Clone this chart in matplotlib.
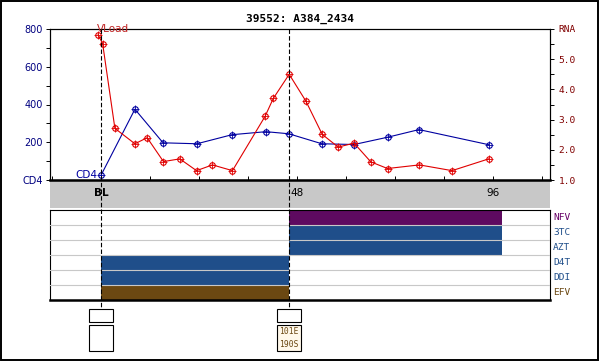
import matplotlib
matplotlib.use("Agg")
import matplotlib.pyplot as plt
from matplotlib.patches import Rectangle
from matplotlib.lines import Line2D
from matplotlib.transforms import blended_transform_factory

# data
title = "39552: A384_2434"

cd4_weeks = [0, 8.3, 15.2, 23.5, 32.1, 40.4, 46, 54.1, 62, 70.3, 77.9, 95]
cd4_vals = [25, 375, 197, 192, 240, 256, 245, 192, 188, 227, 267, 187]

rna_weeks = [-0.7, 0.4, 3.4, 8.3, 11.3, 15.3, 19.3, 23.4, 27.3, 32.2, 40.2,
             42.2, 46.1, 50.2, 54.2, 58.1, 62, 66.1, 70.2, 78, 86, 95]
rna_vals = [5.81, 5.51, 2.71, 2.20, 2.40, 1.61, 1.70, 1.31, 1.50, 1.31, 3.11,
            3.70, 4.50, 3.61, 2.51, 2.09, 2.22, 1.60, 1.38, 1.50, 1.31, 1.70]

cd4_ticks = [0, 200, 400, 600, 800]
cd4_ticklabels = ["CD4", "200", "400", "600", "800"]
rna_ticks = [1, 2, 3, 4, 5, 6]
rna_ticklabels = ["1.0", "2.0", "3.0", "4.0", "5.0", "RNA"]
week_ticks = [-12, 0, 12, 24, 36, 48, 60, 72, 84, 96, 108]
week_ticklabels = ["", "BL", "", "", "", "48", "", "", "", "96", ""]

drugs = ["NFV", "3TC", "AZT", "D4T", "DDI", "EFV"]
drug_start = [46, 46, 46, 0, 0, 0]
drug_stop = [98.3, 98.3, 98.3, 46, 46, 46]
drug_colors = ["#5e0a60", "#1f4e8a", "#1f4e8a", "#1f4e8a", "#1f4e8a", "#6b4812"]
drug_label_colors = ["#660066", "#1f4e8a", "#1f4e8a", "#1f4e8a", "#1f4e8a", "#6b4812"]

event_weeks = [0, 46]
event_mutations = [[], ["101E", "190S"]]

W, H = 600, 362
def fx(px):
    return px / W
def fy(py):
    return 1 - py / H

fig = plt.figure(figsize=(6, 3.62), dpi=100)
fig.patch.set_facecolor("white")

# outer frame
fig.add_artist(Rectangle((fx(1), fy(360)), fx(597), 359 / H, transform=fig.transFigure,
                         fill=False, lw=1.4, ec="black"))

# grey band under the time axis
fig.add_artist(Rectangle((fx(50), fy(208)), fx(500), 27 / H, transform=fig.transFigure,
                         fc="#c8c8c8", ec="none", zorder=-1))

# ---- top plot: CD4 and viral load
ax = fig.add_axes([fx(50), fy(180), fx(500), 151 / H])
ax.set_xlim(-12.5, 110)
ax.set_ylim(0, 800)
ax.set_facecolor("white")
blue = "#0000a0"
red = "#e00000"
ax.plot(cd4_weeks, cd4_vals, color=blue, lw=0.8, marker="o", ms=4, mfc="none", mew=0.8, zorder=3)
ax.plot(cd4_weeks, cd4_vals, color=blue, ls="none", marker="+", ms=6, mew=0.6, zorder=3)

ax.set_yticks(cd4_ticks)
ax.set_yticklabels(cd4_ticklabels, color="#000080", fontsize=7)
ax.set_yticks(range(100, 800, 200), minor=True)
ax.tick_params(axis="y", which="both", direction="out", length=3, width=0.7, color="black", pad=2)
ax.set_xticks(week_ticks)
ax.set_xticklabels(week_ticklabels, fontsize=7.5)
ax.tick_params(axis="x", direction="in", length=3, width=0.7, pad=6)
for lab in ax.get_xticklabels():
    if lab.get_text() == "BL":
        lab.set_fontweight("bold")
for side in ["left", "right", "top"]:
    ax.spines[side].set_linewidth(0.8)
ax.spines["bottom"].set_linewidth(1.8)

ax.text(-1, 25, "CD4", color=blue, fontsize=7.5, ha="right", va="center")

ax2 = ax.twinx()
ax2.set_ylim(1, 6)
ax2.plot(rna_weeks, rna_vals, color=red, lw=0.8, marker="o", ms=4, mfc="none", mew=0.8, zorder=3)
ax2.plot(rna_weeks, rna_vals, color=red, ls="none", marker="+", ms=6, mew=0.6, zorder=3)
ax2.set_yticks(rna_ticks)
ax2.set_yticklabels(rna_ticklabels, color="#800000", fontsize=6.8, family="DejaVu Sans Mono")
ax2.set_yticks([1.5, 2.5, 3.5, 4.5, 5.5], minor=True)
ax2.tick_params(axis="y", which="both", direction="out", length=3, width=0.7, pad=3)
ax2.text(-1, 1.0, "VLoad", color="#c02020", fontsize=7.5, ha="left", va="center",
         transform=blended_transform_factory(ax2.transData, ax2.transAxes))

fig.text(0.5, fy(19), title, ha="center", va="center", fontsize=8,
         family="DejaVu Sans Mono", fontweight="bold")

# ---- drug panel
dax = fig.add_axes([fx(50), fy(300), fx(500), 90 / H])
dax.set_xlim(-12.5, 110)
dax.set_ylim(0, len(drugs))
for i, d in enumerate(drugs):
    row = len(drugs) - 1 - i
    dax.barh(row + 0.5, drug_stop[i] - drug_start[i], left=drug_start[i], height=1.0,
             color=drug_colors[i], zorder=2)
    dax.text(1.006, (row + 0.5) / len(drugs), d, transform=dax.transAxes, color=drug_label_colors[i],
             fontsize=6.8, family="DejaVu Sans Mono", ha="left", va="center")
for r in range(1, len(drugs)):
    dax.axhline(r, color="#c8c8c8", lw=0.8, zorder=3)
dax.set_xticks([])
dax.set_yticks([])
for side in ["left", "right", "top"]:
    dax.spines[side].set_linewidth(0.8)
dax.spines["bottom"].set_linewidth(1.8)

# ---- event lines and mutation boxes
tr = blended_transform_factory(ax.transData, fig.transFigure)
for wk, muts in zip(event_weeks, event_mutations):
    fig.add_artist(Line2D([wk, wk], [fy(29), fy(309)], transform=tr, color="black",
                          lw=0.8, ls=(0, (4, 2)), zorder=5))
    fig.add_artist(Rectangle((wk - 2.9, fy(322)), 5.8, 13 / H, transform=tr,
                             fc="white", ec="black", lw=0.8))
    fc = "#fff8ea" if muts else "white"
    fig.add_artist(Rectangle((wk - 2.9, fy(351)), 5.8, 26 / H, transform=tr,
                             fc=fc, ec="black", lw=0.8))
    if muts:
        fig.text(wk, fy(338), "\n".join(muts), transform=tr, ha="center", va="center",
                 fontsize=5.8, family="DejaVu Sans Mono", color="#6b4812", linespacing=1.5)

fig.savefig("out.png", dpi=100)
